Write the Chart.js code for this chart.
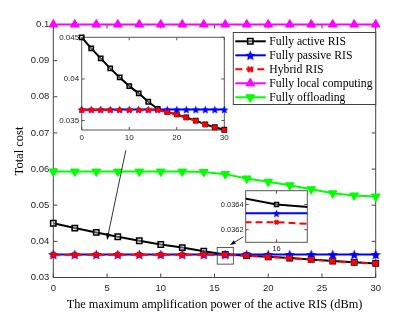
<!DOCTYPE html>
<html>
<head>
<meta charset="utf-8">
<script src="https://cdn.jsdelivr.net/npm/chart.js@4.4.0/dist/chart.umd.min.js"></script>
<style>
  html, body { margin: 0; padding: 0; background: #fff; }
  #wrap { position: relative; width: 415px; height: 313px; }
  #wrap canvas { position: absolute; left: 0; top: 0; }
</style>
</head>
<body>
<div id="wrap">
  <canvas id="mainChart" width="415" height="313"></canvas>
  <canvas id="zoomChart" width="415" height="313"></canvas>
  <canvas id="detailChart" width="415" height="313"></canvas>
</div>
<script>
// --- data ---
const powerDbm = [0, 2, 4, 6, 8, 10, 12, 14, 16, 18, 20, 22, 24, 26, 28, 30];
const activeCost = [0.0450, 0.04367, 0.04247, 0.04127, 0.04018, 0.03914, 0.03827, 0.03726,
  0.0364, 0.03605, 0.03574, 0.03538, 0.0350, 0.03455, 0.0342, 0.0339];
const passiveCost = [0.03633, 0.03633, 0.03633, 0.03633, 0.03633, 0.03633, 0.03633, 0.03633,
  0.03633, 0.03633, 0.03633, 0.03633, 0.03633, 0.03633, 0.03633, 0.03633];
const hybridCost = [0.03626, 0.03626, 0.03626, 0.03626, 0.03626, 0.03626, 0.03626, 0.03626,
  0.03626, 0.03602, 0.03571, 0.03535, 0.03497, 0.03452, 0.03417, 0.03387];
const localCost = [0.1, 0.1, 0.1, 0.1, 0.1, 0.1, 0.1, 0.1, 0.1, 0.1, 0.1, 0.1, 0.1, 0.1, 0.1, 0.1];
const offloadCost = [0.0593, 0.0593, 0.0593, 0.0593, 0.0593, 0.0593, 0.0593, 0.0592,
  0.0586, 0.0574, 0.0565, 0.0555, 0.0544, 0.0533, 0.0527, 0.0524];
const seriesNames = ["Fully active RIS", "Fully passive RIS", "Hybrid RIS",
  "Fully local computing", "Fully offloading"];

// tick labels
const mainXTicks = [0, 5, 10, 15, 20, 25, 30];
const mainYTicks = [0.03, 0.04, 0.05, 0.06, 0.07, 0.08, 0.09, 0.1];
const zoomXTicks = [0, 10, 20, 30];
const zoomYTicks = [0.035, 0.04, 0.045];
const detailXTicks = [16];
const detailYTicks = [0.0362, 0.0364];

// annotation anchors (data space of the main axes)
const zoomArrow = { from: [6.75, 0.0652], to: [5.0, 0.0404] };
const detailArrow = { from: [17.7, 0.0413], to: [16.45, 0.0390] };
const detailBox = { x: [15.25, 16.75], y: [0.0337, 0.0383] };

const W = 415, H = 313;
const SANS = "'Liberation Sans', Arial, sans-serif";
const SERIF = "'Liberation Serif', 'Times New Roman', serif";

// filled five point star, used as a point style
function makeStar(r, color) {
  const size = Math.ceil(r * 2 + 2);
  const c = document.createElement("canvas");
  c.width = size; c.height = size;
  const g = c.getContext("2d");
  g.beginPath();
  for (let i = 0; i < 10; i++) {
    const rr = i % 2 ? r * 0.45 : r;
    const a = -Math.PI / 2 + i * Math.PI / 5;
    g.lineTo(size / 2 + rr * Math.cos(a), size / 2 + rr * Math.sin(a) + 0.5);
  }
  g.closePath();
  g.fillStyle = color;
  g.fill();
  return c;
}

function fmt(v) { return String(+v.toFixed(5)); }

// MATLAB-like box with inward ticks
const matlabFrame = {
  id: "matlabFrame",
  beforeDatasetsDraw(chart, args, opts) {
    const { ctx, chartArea: a, scales } = chart;
    ctx.save();
    if (opts.fill) {
      ctx.fillStyle = opts.fill;
      ctx.fillRect(a.left, a.top, a.right - a.left, a.bottom - a.top);
    }
    ctx.strokeStyle = opts.color || "#444";
    ctx.lineWidth = 1;
    ctx.strokeRect(a.left, a.top, a.right - a.left, a.bottom - a.top);
    const tl = opts.tickLen || 4;
    ctx.beginPath();
    scales.x.ticks.forEach((t) => {
      const px = scales.x.getPixelForValue(t.value);
      ctx.moveTo(px, a.bottom); ctx.lineTo(px, a.bottom - tl);
      ctx.moveTo(px, a.top); ctx.lineTo(px, a.top + tl);
    });
    scales.y.ticks.forEach((t) => {
      const py = scales.y.getPixelForValue(t.value);
      ctx.moveTo(a.left, py); ctx.lineTo(a.left + tl, py);
      ctx.moveTo(a.right, py); ctx.lineTo(a.right - tl, py);
    });
    ctx.stroke();
    ctx.restore();
  },
};

function arrow(ctx, x0, y0, x1, y1, head) {
  const ang = Math.atan2(y1 - y0, x1 - x0);
  ctx.beginPath();
  ctx.moveTo(x0, y0);
  ctx.lineTo(x1 - Math.cos(ang) * head * 0.8, y1 - Math.sin(ang) * head * 0.8);
  ctx.stroke();
  ctx.beginPath();
  ctx.moveTo(x1, y1);
  ctx.lineTo(x1 - head * Math.cos(ang - 0.35), y1 - head * Math.sin(ang - 0.35));
  ctx.lineTo(x1 - head * Math.cos(ang + 0.35), y1 - head * Math.sin(ang + 0.35));
  ctx.closePath();
  ctx.fill();
}

// arrows, zoom rectangle and legend on the main axes
const mainDecor = {
  id: "mainDecor",
  afterDraw(chart) {
    const { ctx, chartArea: a, scales: { x, y } } = chart;
    ctx.save();
    ctx.strokeStyle = "#000";
    ctx.fillStyle = "#000";
    ctx.lineWidth = 0.8;
    arrow(ctx, x.getPixelForValue(zoomArrow.from[0]), y.getPixelForValue(zoomArrow.from[1]),
      x.getPixelForValue(zoomArrow.to[0]), y.getPixelForValue(zoomArrow.to[1]), 7);
    arrow(ctx, x.getPixelForValue(detailArrow.from[0]), y.getPixelForValue(detailArrow.from[1]),
      x.getPixelForValue(detailArrow.to[0]), y.getPixelForValue(detailArrow.to[1]), 6);
    ctx.strokeStyle = "#333";
    const bx0 = x.getPixelForValue(detailBox.x[0]), bx1 = x.getPixelForValue(detailBox.x[1]);
    const by0 = y.getPixelForValue(detailBox.y[1]), by1 = y.getPixelForValue(detailBox.y[0]);
    ctx.strokeRect(bx0, by0, bx1 - bx0, by1 - by0);

    // legend box
    const lw = 142.4, lh = 72;
    const lx = a.right - lw, ly = a.top + 8;
    ctx.fillStyle = "#fff";
    ctx.fillRect(lx, ly, lw, lh);
    ctx.strokeStyle = "#444";
    ctx.lineWidth = 1;
    ctx.strokeRect(lx, ly, lw, lh);
    ctx.font = "11.7px " + SERIF;
    ctx.textBaseline = "middle";
    chart.data.datasets.forEach((ds, i) => {
      const yy = ly + 8.8 + i * 14;
      ctx.strokeStyle = ds.borderColor;
      ctx.lineWidth = ds.borderWidth;
      ctx.setLineDash(ds.borderDash || []);
      ctx.beginPath();
      ctx.moveTo(lx + 2, yy); ctx.lineTo(lx + 32.5, yy);
      ctx.stroke();
      ctx.setLineDash([]);
      ctx.fillStyle = ds.pointBackgroundColor;
      ctx.strokeStyle = ds.pointBorderColor;
      ctx.lineWidth = ds.pointBorderWidth;
      Chart.helpers.drawPoint(ctx, {
        pointStyle: ds.pointStyle, rotation: ds.pointRotation || 0,
        radius: ds.pointRadius, borderWidth: ds.pointBorderWidth,
      }, lx + 17, yy);
      ctx.fillStyle = "#000";
      ctx.fillText(seriesNames[i], lx + 36, yy + 0.5);
    });
    ctx.restore();
  },
};

function seriesSets(scale) {
  const star = makeStar(5.5 * scale, "#0000ff");
  return [
    {
      label: seriesNames[0], data: activeCost, borderColor: "#000", borderWidth: 2,
      pointStyle: "rect", pointRadius: 3.8 * scale, pointBorderWidth: 1.5,
      pointBorderColor: "#000", pointBackgroundColor: "rgba(255,255,255,0.35)", order: 5,
    },
    {
      label: seriesNames[1], data: passiveCost, borderColor: "#0000ff", borderWidth: 2,
      pointStyle: star, pointRadius: 5.5 * scale, pointBorderWidth: 0,
      pointBorderColor: "#0000ff", pointBackgroundColor: "#0000ff", order: 4,
    },
    {
      label: seriesNames[2], data: hybridCost, borderColor: "#ff0000", borderWidth: 2,
      borderDash: [7, 4], pointStyle: "crossRot", pointRadius: 3.5 * scale,
      pointBorderWidth: 2.5, pointBorderColor: "#ff0000", pointBackgroundColor: "#ff0000", order: 3,
    },
    {
      label: seriesNames[3], data: localCost, borderColor: "#ff00ff", borderWidth: 2,
      pointStyle: "triangle", pointRadius: 5, pointBorderWidth: 1,
      pointBorderColor: "#ff00ff", pointBackgroundColor: "#ff00ff", order: 2,
    },
    {
      label: seriesNames[4], data: offloadCost, borderColor: "#00ff00", borderWidth: 2,
      pointStyle: "triangle", pointRotation: 180, pointRadius: 5, pointBorderWidth: 1,
      pointBorderColor: "#00ff00", pointBackgroundColor: "#00ff00", order: 1,
    },
  ];
}

// builds one set of axes whose plot area sits exactly at `area`
function buildAxes(canvasId, area, datasets, opt) {
  const tickFont = { family: SANS, size: opt.tickSize };
  return new Chart(document.getElementById(canvasId), {
    type: "line",
    data: { labels: powerDbm, datasets: datasets },
    options: {
      responsive: false,
      animation: false,
      events: [],
      clip: opt.clip,
      elements: { line: { tension: 0 } },
      layout: { padding: { top: area.top, right: W - area.right, left: 0, bottom: 0 } },
      plugins: {
        legend: { display: false },
        tooltip: { enabled: false },
        matlabFrame: { fill: opt.fill, color: opt.frameColor, tickLen: opt.tickLen },
      },
      scales: {
        x: {
          type: "linear", min: opt.xRange[0], max: opt.xRange[1],
          grid: { display: false, drawTicks: false }, border: { display: false },
          afterBuildTicks: (s) => { s.ticks = opt.xTicks.map((v) => ({ value: v })); },
          afterFit: (s) => { s.height = H - area.bottom; },
          ticks: { font: tickFont, color: "#262626", padding: opt.xPad, maxRotation: 0, callback: fmt },
          title: opt.xTitle ? {
            display: true, text: opt.xTitle, color: "#000",
            font: { family: SERIF, size: 12.3 }, padding: { top: 0, bottom: 1.3 },
          } : { display: false },
        },
        y: {
          type: "linear", min: opt.yRange[0], max: opt.yRange[1],
          grid: { display: false, drawTicks: false }, border: { display: false },
          afterBuildTicks: (s) => { s.ticks = opt.yTicks.map((v) => ({ value: v })); },
          afterFit: (s) => { s.width = area.left; },
          ticks: { font: tickFont, color: "#262626", padding: opt.yPad, callback: fmt },
          title: opt.yTitle ? {
            display: true, text: opt.yTitle, color: "#000",
            font: { family: SERIF, size: 12.5 }, padding: { top: 12.5, bottom: 0 },
          } : { display: false },
        },
      },
    },
    plugins: opt.extra ? [matlabFrame, opt.extra] : [matlabFrame],
  });
}

// main axes
const mainSets = seriesSets(1).map((d) => Object.assign(d, { clip: false }));
buildAxes("mainChart", { left: 53.3, right: 375.7, top: 24.5, bottom: 277.5 }, mainSets, {
  xRange: [0, 30], yRange: [0.03, 0.1], xTicks: mainXTicks, yTicks: mainYTicks,
  tickSize: 9.5, xPad: 5, yPad: 4, frameColor: "#444", tickLen: 4,
  xTitle: "The maximum amplification power of the active RIS (dBm)", yTitle: "Total cost",
  extra: mainDecor, clip: false,
});

// first inset: whole range of the three RIS curves
const zoomSets = seriesSets(0.8).slice(0, 3).map((d) => Object.assign(d, { clip: false }));
buildAxes("zoomChart", { left: 81.7, right: 224.3, top: 37.3, bottom: 130 }, zoomSets, {
  xRange: [0, 30], yRange: [0.03387, 0.045], xTicks: zoomXTicks, yTicks: zoomYTicks,
  tickSize: 8, xPad: 3, yPad: 2.5, fill: "#fff", frameColor: "#555", tickLen: 3, clip: false,
});

// second inset: close-up around 16 dBm
const detailSets = seriesSets(0.75).slice(0, 3);
detailSets[1].pointStyle = makeStar(4.2, "#0000ff");
buildAxes("detailChart", { left: 245.7, right: 307.3, top: 190.7, bottom: 242.3 }, detailSets, {
  xRange: [15.89, 16.11], yRange: [0.0361, 0.03651], xTicks: detailXTicks, yTicks: detailYTicks,
  tickSize: 7.5, xPad: 2.5, yPad: 2, fill: "#fff", frameColor: "#555", tickLen: 3,
});
</script>
</body>
</html>
